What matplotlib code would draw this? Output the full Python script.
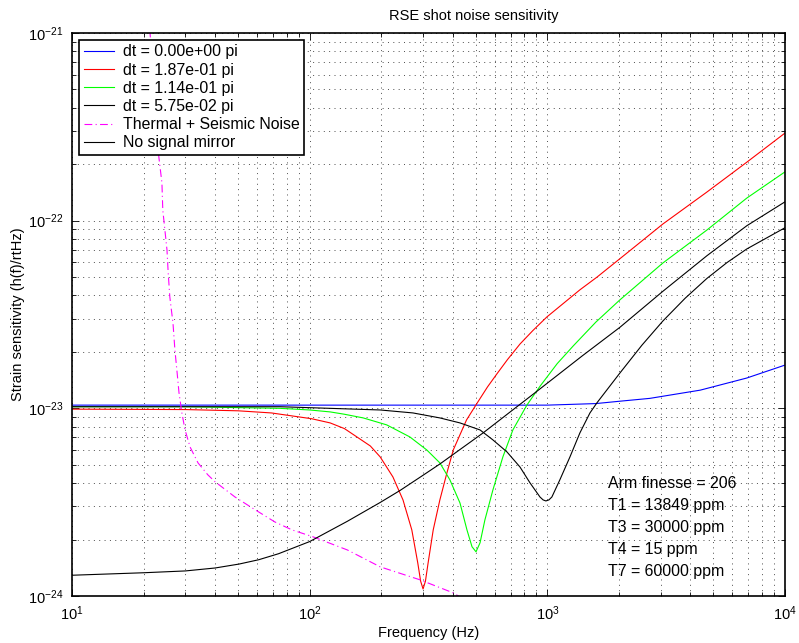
import matplotlib
matplotlib.use("Agg")
import matplotlib.pyplot as plt
from matplotlib.ticker import LogFormatterSciNotation, LogLocator

plt.rcParams['font.family'] = ['Liberation Sans', 'DejaVu Sans']
plt.rcParams['mathtext.fontset'] = 'custom'
plt.rcParams['mathtext.rm'] = 'Liberation Sans'
plt.rcParams['mathtext.it'] = 'Liberation Sans:italic'
plt.rcParams['mathtext.bf'] = 'Liberation Sans:bold'

# values (frequency in Hz, strain in 1/rtHz)
blue_f = [10, 30, 100, 300, 1000, 1600, 2000, 2700, 4400, 6900, 10000]
blue_h = [1.04e-23, 1.04e-23, 1.04e-23, 1.04e-23, 1.04e-23, 1.06e-23, 1.09e-23,
          1.13e-23, 1.25e-23, 1.45e-23, 1.70e-23]

red_f = [10, 30, 50, 69, 102, 122, 140, 158, 180, 198, 224, 247, 269, 285, 293,
         300, 307, 315, 331, 353, 378, 402, 457, 505, 560, 612, 680, 767, 870,
         996, 1371, 1617, 2200, 3063, 4690, 6910, 10000]
red_h = [9.9e-24, 9.85e-24, 9.7e-24, 9.45e-24, 8.8e-24, 8.36e-24, 7.8e-24,
         7.04e-24, 6.3e-24, 5.51e-24, 4.31e-24, 3.25e-24, 2.25e-24, 1.50e-24,
         1.2e-24, 1.09e-24, 1.2e-24, 1.50e-24, 2.25e-24, 3.25e-24, 4.53e-24,
         6.0e-24, 8.67e-24, 1.06e-23, 1.30e-23, 1.52e-23, 1.82e-23, 2.2e-23,
         2.6e-23, 3.07e-23, 4.28e-23, 5.0e-23, 6.84e-23, 9.6e-23, 1.42e-22,
         2.05e-22, 2.93e-22]

green_f = [10, 30, 75, 100, 122, 140, 168, 211, 264, 311, 353, 389, 429, 459,
           482, 501, 521, 546, 590, 650, 716, 820, 931, 1100, 1285, 1600, 2018,
           3063, 4690, 6910, 10000]
green_h = [1.02e-23, 1.02e-23, 1.0e-23, 9.8e-24, 9.57e-24, 9.3e-24, 8.89e-24,
           8.16e-24, 7.04e-24, 6.0e-24, 5.12e-24, 4.16e-24, 3.13e-24, 2.25e-24,
           1.83e-24, 1.72e-24, 1.92e-24, 2.54e-24, 3.67e-24, 5.51e-24, 7.67e-24,
           1.04e-23, 1.31e-23, 1.73e-23, 2.15e-23, 2.88e-23, 3.78e-23, 5.95e-23,
           8.91e-23, 1.32e-22, 1.82e-22]

black_f = [10, 30, 75, 198, 272, 353, 429, 521, 590, 676, 767, 845, 931, 960,
           986, 1015, 1045, 1129, 1245, 1371, 1511, 1617, 2018, 2500, 3063,
           3800, 4690, 5700, 6910, 10000]
black_h = [1.02e-23, 1.02e-23, 1.02e-23, 9.8e-24, 9.45e-24, 8.89e-24, 8.36e-24,
           7.67e-24, 6.79e-24, 5.86e-24, 4.87e-24, 4.01e-24, 3.37e-24, 3.25e-24,
           3.21e-24, 3.25e-24, 3.37e-24, 4.16e-24, 5.51e-24, 7.4e-24, 9.45e-24,
           1.07e-23, 1.54e-23, 2.17e-23, 2.92e-23, 3.86e-23, 4.92e-23, 5.98e-23,
           7.07e-23, 9.17e-23]

thermal_f = [20, 21.3, 23.2, 23.9, 24.1, 24.6, 25.1, 25.4, 25.8, 26.6, 27.1,
             27.7, 28.2, 29.0, 29.9, 31.4, 33.9, 37.3, 40.0, 48.5, 57.2, 71.4,
             84.3, 103, 144, 198, 291, 401, 500]
thermal_h = [1.6e-21, 1.0e-21, 2.18e-22, 1.59e-22, 1.14e-22, 8.9e-23, 6.98e-23,
             5.26e-23, 3.92e-23, 2.85e-23, 2.05e-23, 1.54e-23, 1.21e-23,
             9.45e-24, 7.67e-24, 6.22e-24, 5.12e-24, 4.42e-24, 4.06e-24,
             3.37e-24, 2.95e-24, 2.48e-24, 2.25e-24, 2.07e-24, 1.76e-24,
             1.43e-24, 1.22e-24, 1.04e-24, 8.8e-25]

nosig_f = [10, 20, 30, 40, 50.5, 61, 74, 100, 144, 198, 240, 300, 353, 450,
           537, 700, 902, 1400, 2018, 3060, 4690, 6910, 10000]
nosig_h = [1.29e-24, 1.33e-24, 1.36e-24, 1.41e-24, 1.48e-24, 1.56e-24, 1.68e-24,
           1.95e-24, 2.5e-24, 3.15e-24, 3.65e-24, 4.4e-24, 5.05e-24, 6.3e-24,
           7.4e-24, 9.6e-24, 1.23e-23, 1.9e-23, 2.7e-23, 4.2e-23, 6.5e-23,
           9.4e-23, 1.26e-22]

x_ticks = [1e1, 1e2, 1e3, 1e4]
y_ticks = [1e-24, 1e-23, 1e-22, 1e-21]

labels = ['dt = 0.00e+00 pi', 'dt = 1.87e-01 pi', 'dt = 1.14e-01 pi',
          'dt = 5.75e-02 pi', 'Thermal + Seismic Noise', 'No signal mirror']
notes = ['Arm finesse = 206', 'T1 = 13849 ppm', 'T3 = 30000 ppm',
         'T4 = 15 ppm', 'T7 = 60000 ppm']

fig = plt.figure(figsize=(7.99, 6.43), dpi=100)
ax = fig.add_axes([0.0901, 0.0731, 0.8924, 0.8756])

lw = 0.8
ax.plot(blue_f, blue_h, color='#0000ff', lw=lw, label=labels[0])
ax.plot(red_f, red_h, color='#ff0000', lw=lw, label=labels[1])
ax.plot(green_f, green_h, color='#00ff00', lw=lw, label=labels[2])
ax.plot(black_f, black_h, color='k', lw=lw, label=labels[3])
ax.plot(thermal_f, thermal_h, color='#ff00ff', lw=lw, ls=(0, (7, 3, 1, 3)),
        label=labels[4])
ax.plot(nosig_f, nosig_h, color='k', lw=lw, label=labels[5])

ax.set_xscale('log')
ax.set_yscale('log')
ax.set_xlim(10, 1e4)
ax.set_ylim(1e-24, 1e-21)
ax.set_xticks(x_ticks)
ax.set_yticks(y_ticks)
ax.xaxis.set_minor_locator(LogLocator(base=10, subs=range(2, 10), numticks=20))
ax.yaxis.set_minor_locator(LogLocator(base=10, subs=range(2, 10), numticks=20))
ax.xaxis.set_major_formatter(LogFormatterSciNotation())
ax.yaxis.set_major_formatter(LogFormatterSciNotation())

ax.grid(True, which='both', linestyle=(0, (1, 4.5)), color='0.3', lw=0.7)
ax.tick_params(which='both', direction='in', top=True, right=True,
               labelsize=10.5, width=0.6)
ax.tick_params(which='major', length=5, pad=6)
ax.tick_params(which='minor', length=3)
for s in ax.spines.values():
    s.set_linewidth(1.2)

ax.set_title('RSE shot noise sensitivity', fontsize=10.5, pad=9, x=0.564)
ax.set_xlabel('Frequency (Hz)', fontsize=10.5, labelpad=2)
ax.set_ylabel('Strain sensitivity (h(f)/rtHz)', fontsize=10.5, labelpad=2)

leg = ax.legend(loc='upper left', bbox_to_anchor=(0.0098, 0.988),
                borderaxespad=0, fontsize=11.4, fancybox=False,
                edgecolor='k', framealpha=1, handlelength=1.9,
                handletextpad=0.55, labelspacing=0.2, borderpad=0.3)
leg.get_frame().set_linewidth(1.2)

for i, t in enumerate(notes):
    ax.text(0.752, 0.199 - i * 0.039, t, transform=ax.transAxes,
            fontsize=11.4, va='center', ha='left')

plt.savefig('out.png', dpi=100)
plt.close()
